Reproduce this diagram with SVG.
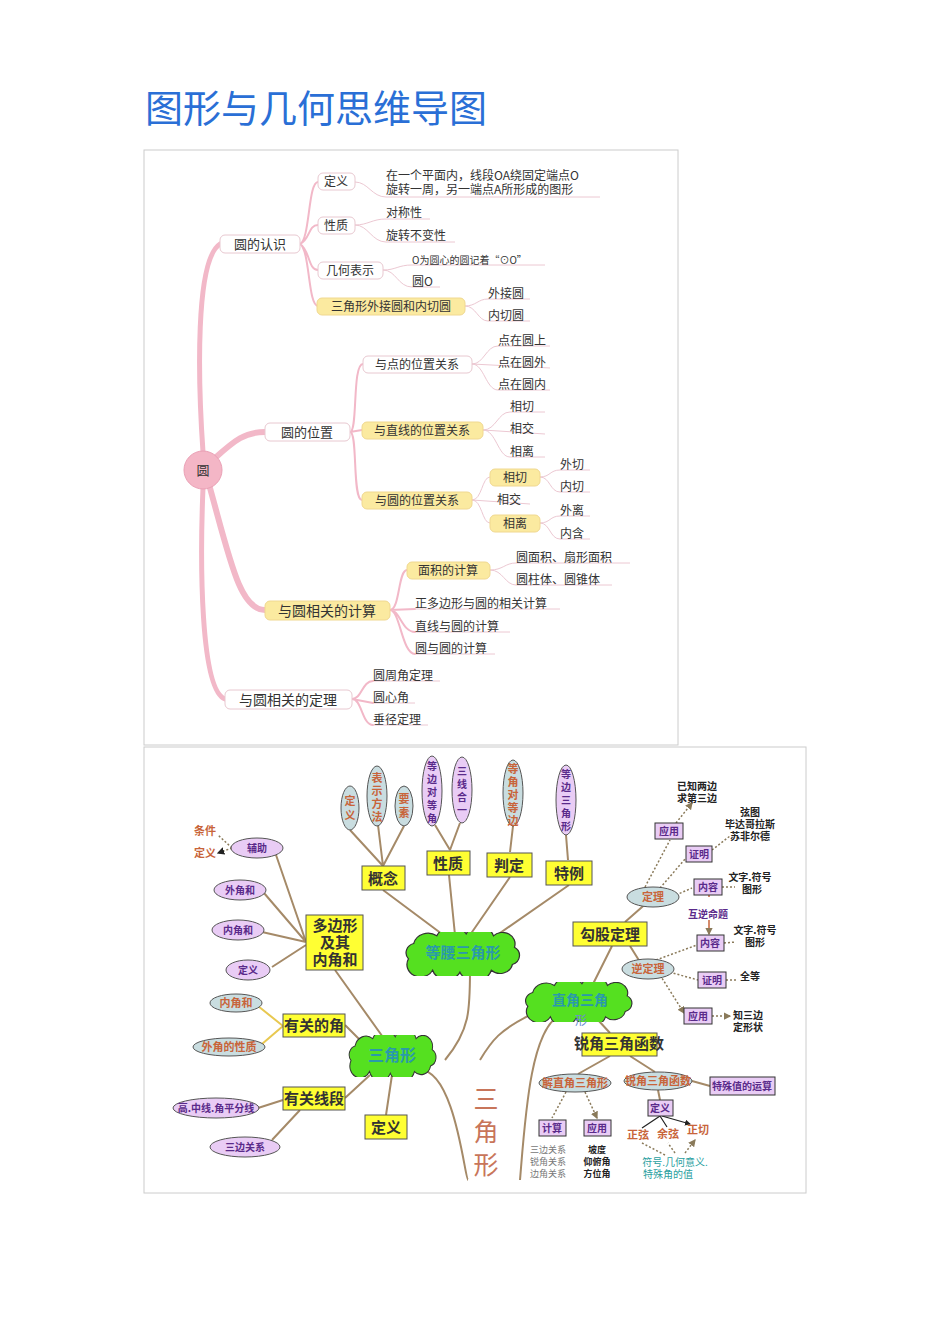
<svg xmlns="http://www.w3.org/2000/svg" xmlns:xlink="http://www.w3.org/1999/xlink" width="950" height="1344" viewBox="0 0 950 1344">
<style>
text{font-family:"Noto Sans CJK SC","Liberation Sans",sans-serif}
.t{font-size:12px;fill:#333}
.tb{font-size:13px;fill:#333}
.box{fill:#fff;stroke:#e8c8d0;stroke-width:1}
.ybox{fill:#fbeaa0;stroke:#f0d890;stroke-width:1}
.ul{stroke:#ecc8d2;stroke-width:1;fill:none}
.pk{stroke:#f2b8c8;fill:none;stroke-linecap:round}
.br{stroke:#a58a68;stroke-width:2;fill:none}
.yb{fill:#ffff33;stroke:#555;stroke-width:1}
.yt{font-size:15px;font-weight:bold;fill:#333}
.lav{fill:#e9ccf5;stroke:#555;stroke-width:1}
.gb{fill:#c9dde0;stroke:#555;stroke-width:1}
.pu{font-size:10px;font-weight:bold;fill:#5a2a8a}
.or{font-size:11px;font-weight:bold;fill:#c8643a}
.pb{fill:#e9ccf5;stroke:#333;stroke-width:1}
.dot{stroke:#8a7a5a;stroke-width:1.5;stroke-dasharray:2 2;fill:none}
.k{font-size:10px;font-weight:bold;fill:#222}
.sm{font-size:9px}
.ct{font-weight:bold;fill:#2a9aaa}
</style>
<defs>
<symbol id="cloud" viewBox="0 0 122 46" preserveAspectRatio="none">
<path d="M10,28 a10,10 0 0 1 5,-16 a14,14 0 0 1 22,-8 a16,16 0 0 1 28,-2 a14,14 0 0 1 26,2 a12,12 0 0 1 20,12 a10,10 0 0 1 -2,18 a12,12 0 0 1 -20,6 a16,16 0 0 1 -30,2 a14,14 0 0 1 -26,-2 a10,10 0 0 1 -23,-12 z" fill="#55e020" stroke="#333" stroke-width="1.2"/>
</symbol>
<marker id="ah" viewBox="0 0 6 6" refX="5" refY="3" markerWidth="5" markerHeight="5" orient="auto"><path d="M0,0L6,3L0,6z" fill="#8a7a5a"/></marker>
<marker id="ab" viewBox="0 0 6 6" refX="5" refY="3" markerWidth="5" markerHeight="5" orient="auto"><path d="M0,0L6,3L0,6z" fill="#222"/></marker>
</defs>
<rect width="950" height="1344" fill="#fff"/>
<text x="145" y="122" font-size="38" fill="#2a6fd6">图形与几何思维导图</text>
<rect x="144" y="150" width="534" height="595" fill="#fff" stroke="#ccc"/>
<rect x="144" y="747" width="662" height="446" fill="#fff" stroke="#ccc"/>

<g id="connectors-top">
<path class="pk" stroke-width="5" d="M203,452 C198,380 195,260 220,244"/>
<path class="pk" stroke-width="5" d="M203,488 C200,560 200,690 225,699"/>
<path class="pk" stroke-width="6" d="M215,458 C235,440 245,432 265,432"/>
<path class="pk" stroke-width="6" d="M210,488 C230,560 240,610 265,610"/>
<path class="pk" stroke-width="2" d="M300,244 C310,240 308,182 318,182 M300,244 C310,240 308,225 318,225 M300,244 C310,250 308,270 318,270 M300,244 C310,250 308,306 318,306"/>
<path class="ul" d="M355,182 C368,182 372,197 386,197 L600,197 M355,225 C368,225 372,219 386,219 L430,219 M355,225 C368,225 372,242 386,242 L455,242 M383,270 C396,270 398,265 412,265 L545,265 M383,270 C396,270 398,287 412,287 L440,287 M465,306 C476,306 478,299 488,299 L530,299 M465,306 C476,306 478,321 488,321 L530,321"/>
<path class="pk" stroke-width="2" d="M350,432 C358,432 352,364 363,364 M350,432 L362,430 M350,432 C358,432 352,500 362,500"/>
<path class="ul" d="M472,364 C484,364 486,346 498,346 L550,346 M472,364 L550,368 M472,364 C484,364 486,390 498,390 L550,390 M483,430 C496,430 498,412 510,412 L545,412 M483,430 L545,434 M483,430 C496,430 498,457 510,457 L545,457 M472,500 C482,500 482,477 490,477 M472,500 L530,504 M472,500 C482,500 482,523 490,523 M540,477 C550,477 550,470 560,470 L590,470 M540,477 C550,477 550,492 560,492 L590,492 M540,523 C550,523 550,516 560,516 L590,516 M540,523 C550,523 550,539 560,539 L590,539"/>
<path class="pk" stroke-width="2" d="M390,610 C400,610 398,570 407,570 M390,610 L415,609 M390,610 C400,610 402,632 415,632 M390,610 C400,610 402,654 415,654"/>
<path class="ul" d="M490,570 C503,570 505,563 516,563 L630,563 M490,570 C503,570 505,585 516,585 L612,585 M415,609 L560,609 M415,632 L510,632 M415,654 L495,654"/>
<path class="pk" stroke-width="2" d="M352,699 C362,699 362,681 373,681 M352,699 L373,703 M352,699 C362,699 362,725 373,725"/>
<path class="ul" d="M373,681 L440,681 M373,703 L415,703 M373,725 L428,725"/>
</g>

<g id="n-yuan"><circle cx="203" cy="470" r="19" fill="#f4b6c6" stroke="#eaa0b5"/><text x="203" y="475" text-anchor="middle" class="tb">圆</text></g>
<g id="n-rs"><rect class="box" x="220" y="235" width="80" height="18" rx="5"/><text x="260" y="249" text-anchor="middle" class="tb">圆的认识</text></g>
<g id="n-dy"><rect class="box" x="318" y="173" width="37" height="17" rx="5"/><text x="336" y="186" text-anchor="middle" class="t">定义</text></g>
<g id="n-dyt"><text x="386" y="180" class="t">在一个平面内，线段OA绕固定端点O</text><text x="386" y="194" class="t">旋转一周，另一端点A所形成的图形</text></g>
<g id="n-xz"><rect class="box" x="318" y="217" width="37" height="17" rx="5"/><text x="336" y="230" text-anchor="middle" class="t">性质</text></g>
<g id="n-xzt"><text x="386" y="217" class="t">对称性</text><text x="386" y="240" class="t">旋转不变性</text></g>
<g id="n-jh"><rect class="box" x="318" y="262" width="65" height="17" rx="5"/><text x="350" y="275" text-anchor="middle" class="t">几何表示</text></g>
<g id="n-jht"><text x="412" y="264" font-size="10" fill="#333">O为圆心的圆记着“⊙O”</text><text x="412" y="286" class="t">圆O</text></g>
<g id="n-sjx"><rect class="ybox" x="317" y="298" width="148" height="17" rx="5"/><text x="391" y="311" text-anchor="middle" class="t">三角形外接圆和内切圆</text></g>
<g id="n-sjxt"><text x="488" y="298" class="t">外接圆</text><text x="488" y="320" class="t">内切圆</text></g>
<g id="n-wz"><rect class="box" x="265" y="423" width="85" height="18" rx="5"/><text x="307" y="437" text-anchor="middle" class="tb">圆的位置</text></g>
<g id="n-d"><rect class="box" x="363" y="356" width="109" height="17" rx="5"/><text x="417" y="369" text-anchor="middle" class="t">与点的位置关系</text></g>
<g id="n-dt"><text x="498" y="345" class="t">点在圆上</text><text x="498" y="367" class="t">点在圆外</text><text x="498" y="389" class="t">点在圆内</text></g>
<g id="n-zx"><rect class="ybox" x="362" y="422" width="121" height="17" rx="5"/><text x="422" y="435" text-anchor="middle" class="t">与直线的位置关系</text></g>
<g id="n-zxt"><text x="510" y="411" class="t">相切</text><text x="510" y="433" class="t">相交</text><text x="510" y="456" class="t">相离</text></g>
<g id="n-y"><rect class="ybox" x="362" y="492" width="110" height="17" rx="5"/><text x="417" y="505" text-anchor="middle" class="t">与圆的位置关系</text></g>
<g id="n-xq"><rect class="ybox" x="490" y="469" width="50" height="17" rx="5"/><text x="515" y="482" text-anchor="middle" class="t">相切</text></g>
<g id="n-xj"><text x="497" y="504" class="t">相交</text></g>
<g id="n-xl"><rect class="ybox" x="490" y="515" width="50" height="17" rx="5"/><text x="515" y="528" text-anchor="middle" class="t">相离</text></g>
<g id="n-yt"><text x="560" y="469" class="t">外切</text><text x="560" y="491" class="t">内切</text><text x="560" y="515" class="t">外离</text><text x="560" y="538" class="t">内含</text></g>
<g id="n-js"><rect class="ybox" x="265" y="601" width="125" height="19" rx="5"/><text x="327" y="616" text-anchor="middle" font-size="14" fill="#333">与圆相关的计算</text></g>
<g id="n-mj"><rect class="ybox" x="407" y="562" width="83" height="17" rx="5"/><text x="448" y="575" text-anchor="middle" class="t">面积的计算</text></g>
<g id="n-mjt"><text x="516" y="562" class="t">圆面积、扇形面积</text><text x="516" y="584" class="t">圆柱体、圆锥体</text></g>
<g id="n-jst"><text x="415" y="608" class="t">正多边形与圆的相关计算</text><text x="415" y="631" class="t">直线与圆的计算</text><text x="415" y="653" class="t">圆与圆的计算</text></g>
<g id="n-dl"><rect class="box" x="225" y="690" width="127" height="19" rx="5"/><text x="288" y="705" text-anchor="middle" font-size="14" fill="#333">与圆相关的定理</text></g>
<g id="n-dlt"><text x="373" y="680" class="t">圆周角定理</text><text x="373" y="702" class="t">圆心角</text><text x="373" y="724" class="t">垂径定理</text></g>

<g id="connectors-bottom">
<path class="br" d="M383,866 L350,830 M383,866 L378,825 M383,866 L404,826 M450,850 L435,825 M450,850 L460,823 M510,852 L513,826 M568,860 L566,835"/>
<path class="br" d="M383,890 L450,940 M449,875 L455,935 M510,877 L470,935 M569,885 L490,940"/>
<path class="br" d="M335,970 L385,1040 M345,1025 L360,1040 M345,1098 L370,1075 M386,1115 L392,1075"/>
<path class="br" d="M306,942 L275,852 M306,942 L264,893 M306,942 L262,932 M306,945 L272,967"/>
<path class="br" d="M283,1100 L258,1108 M300,1110 L272,1140"/>
<path stroke="#e8c850" stroke-width="2" fill="none" d="M283,1026 L258,1006 M283,1026 L262,1044"/>
<path class="br" d="M470,970 C470,1010 470,1030 445,1060"/>
<path class="br" d="M420,1070 C455,1070 465,1180 468,1180"/>
<path class="br" d="M560,1015 C530,1030 525,1120 520,1180"/>
<path class="br" d="M530,1015 C500,1030 492,1040 480,1060"/>
<path class="br" d="M590,990 L612,946 M625,922 L650,900 M630,946 L640,962 M598,1020 L610,1033 M610,1056 L578,1074 M630,1056 L655,1072 M692,1081 L710,1086 M658,1090 L660,1100"/>
<path class="dot" marker-end="url(#ah)" d="M645,887 L670,840 M676,823 L692,803"/>
<path class="dot" marker-end="url(#ah)" d="M660,888 L686,858 M712,850 L730,836 M676,895 L692,888 M722,887 L735,887 M724,943 L736,942 M726,980 L737,980 M712,1016 L730,1016"/>
<path class="dot" marker-end="url(#ah)" d="M656,960 L697,945 M662,970 L698,980 M660,975 L684,1013"/>
<path class="dot" marker-end="url(#ah)" d="M566,1092 L552,1118 M585,1092 L597,1118"/>
<path stroke="#c8643a" stroke-width="1.5" fill="none" marker-end="url(#ah)" d="M709,897 L709,880 M709,920 L709,934"/>
<path stroke="#222" stroke-width="1.2" fill="none" marker-end="url(#ab)" d="M660,1116 L642,1128 M660,1116 L667,1127 M662,1116 L690,1124"/>
<path class="dot" marker-end="url(#ah)" d="M665,1155 L642,1143 M675,1153 L668,1143 M685,1153 L695,1140"/>
<path class="dot" marker-end="url(#ab)" d="M232,848 L218,835 M232,848 L218,853"/>
</g>

<g id="b-c1"><use href="#cloud" x="398" y="932" width="128" height="44"/><text x="463" y="958" text-anchor="middle" font-size="15" class="ct">等腰三角形</text></g>
<g id="b-c2"><use href="#cloud" x="343" y="1035" width="98" height="42"/><text x="392" y="1061" text-anchor="middle" font-size="16" class="ct">三角形</text></g>
<g id="b-c3"><use href="#cloud" x="518" y="982" width="120" height="40"/><text x="580" y="1005" text-anchor="middle" font-size="14" class="ct">直角三角</text><text x="581" y="1025" text-anchor="middle" font-size="12" fill="#6a8ad6">形</text></g>

<g id="b-e1"><ellipse class="gb" cx="350" cy="808" rx="9" ry="22"/><text x="350" y="805" text-anchor="middle" class="or">定</text><text x="350" y="819" text-anchor="middle" class="or">义</text></g>
<g id="b-e2"><ellipse class="gb" cx="377" cy="796" rx="10" ry="30"/><text x="377" y="782" text-anchor="middle" class="or">表</text><text x="377" y="795" text-anchor="middle" class="or">示</text><text x="377" y="808" text-anchor="middle" class="or">方</text><text x="377" y="821" text-anchor="middle" class="or">法</text></g>
<g id="b-e3"><ellipse class="gb" cx="404" cy="806" rx="9" ry="20"/><text x="404" y="803" text-anchor="middle" class="or">要</text><text x="404" y="817" text-anchor="middle" class="or">素</text></g>
<g id="b-e4"><ellipse class="lav" cx="432" cy="791" rx="10" ry="35"/><g class="pu" text-anchor="middle"><text x="432" y="770">等</text><text x="432" y="783">边</text><text x="432" y="796">对</text><text x="432" y="809">等</text><text x="432" y="822">角</text></g></g>
<g id="b-e5"><ellipse class="lav" cx="462" cy="790" rx="10" ry="33"/><g class="pu" text-anchor="middle"><text x="462" y="775">三</text><text x="462" y="788">线</text><text x="462" y="801">合</text><text x="462" y="814">一</text></g></g>
<g id="b-e6"><ellipse class="gb" cx="513" cy="793" rx="10" ry="33"/><g class="or" text-anchor="middle" font-size="10"><text x="513" y="773">等</text><text x="513" y="786">角</text><text x="513" y="799">对</text><text x="513" y="812">等</text><text x="513" y="825">边</text></g></g>
<g id="b-e7"><ellipse class="lav" cx="566" cy="800" rx="10" ry="35"/><g class="pu" text-anchor="middle"><text x="566" y="778">等</text><text x="566" y="791">边</text><text x="566" y="804">三</text><text x="566" y="817">角</text><text x="566" y="830">形</text></g></g>

<g id="b-gn"><rect class="yb" x="362" y="866" width="43" height="24"/><text x="383" y="884" text-anchor="middle" class="yt">概念</text></g>
<g id="b-xz"><rect class="yb" x="427" y="851" width="43" height="24"/><text x="448" y="869" text-anchor="middle" class="yt">性质</text></g>
<g id="b-pd"><rect class="yb" x="487" y="853" width="45" height="24"/><text x="509" y="871" text-anchor="middle" class="yt">判定</text></g>
<g id="b-tl"><rect class="yb" x="546" y="861" width="46" height="24"/><text x="569" y="879" text-anchor="middle" class="yt">特例</text></g>
<g id="b-dbx"><rect class="yb" x="306" y="915" width="57" height="55"/><text x="335" y="931" text-anchor="middle" class="yt" font-size="14">多边形</text><text x="335" y="948" text-anchor="middle" class="yt" font-size="14">及其</text><text x="335" y="965" text-anchor="middle" class="yt" font-size="14">内角和</text></g>
<g id="b-fz"><ellipse class="lav" cx="257" cy="848" rx="26" ry="10"/><text x="257" y="852" text-anchor="middle" class="pu">辅助</text></g>
<g id="b-tj"><text x="205" y="835" text-anchor="middle" class="or">条件</text><text x="205" y="857" text-anchor="middle" class="or">定义</text></g>
<g id="b-wjh"><ellipse class="lav" cx="240" cy="890" rx="26" ry="10"/><text x="240" y="894" text-anchor="middle" class="pu">外角和</text></g>
<g id="b-njh"><ellipse class="lav" cx="238" cy="930" rx="26" ry="10"/><text x="238" y="934" text-anchor="middle" class="pu">内角和</text></g>
<g id="b-dy1"><ellipse class="lav" cx="248" cy="970" rx="22" ry="10"/><text x="248" y="974" text-anchor="middle" class="pu">定义</text></g>
<g id="b-yj"><rect class="yb" x="283" y="1014" width="62" height="23"/><text x="314" y="1031" text-anchor="middle" class="yt">有关的角</text></g>
<g id="b-njh2"><ellipse class="gb" cx="236" cy="1003" rx="26" ry="9"/><text x="236" y="1007" text-anchor="middle" class="or" font-size="10">内角和</text></g>
<g id="b-wjxz"><ellipse class="gb" cx="229" cy="1047" rx="36" ry="9"/><text x="229" y="1051" text-anchor="middle" class="or" font-size="10">外角的性质</text></g>
<g id="b-yxd"><rect class="yb" x="283" y="1087" width="62" height="23"/><text x="314" y="1104" text-anchor="middle" class="yt">有关线段</text></g>
<g id="b-gzx"><ellipse class="lav" cx="216" cy="1108" rx="43" ry="10"/><text x="216" y="1112" text-anchor="middle" class="pu">高.中线.角平分线</text></g>
<g id="b-sbgx"><ellipse class="lav" cx="245" cy="1147" rx="35" ry="10"/><text x="245" y="1151" text-anchor="middle" class="pu">三边关系</text></g>
<g id="b-dy2"><rect class="yb" x="365" y="1115" width="42" height="24"/><text x="386" y="1133" text-anchor="middle" class="yt">定义</text></g>
<g id="b-sjx" font-size="25" fill="#c8755a" text-anchor="middle"><text x="486" y="1108">三</text><text x="486" y="1141">角</text><text x="486" y="1174">形</text></g>

<g id="b-gg"><rect class="yb" x="573" y="922" width="74" height="24"/><text x="610" y="940" text-anchor="middle" class="yt">勾股定理</text></g>
<g id="b-dl"><ellipse class="gb" cx="653" cy="897" rx="26" ry="10"/><text x="653" y="901" text-anchor="middle" class="or" font-size="10">定理</text></g>
<g id="b-ndl"><ellipse class="gb" cx="648" cy="969" rx="26" ry="10"/><text x="648" y="973" text-anchor="middle" class="or" font-size="10">逆定理</text></g>
<g id="b-yy1"><rect class="pb" x="655" y="823" width="28" height="16"/><text x="669" y="835" text-anchor="middle" class="pu">应用</text></g>
<g id="b-yz"><text x="697" y="790" text-anchor="middle" class="k">已知两边</text><text x="697" y="802" text-anchor="middle" class="k">求第三边</text></g>
<g id="b-zm1"><rect class="pb" x="686" y="846" width="26" height="16"/><text x="699" y="858" text-anchor="middle" class="pu">证明</text></g>
<g id="b-xt"><text x="750" y="816" text-anchor="middle" class="k">弦图</text><text x="750" y="828" text-anchor="middle" class="k">毕达哥拉斯</text><text x="750" y="840" text-anchor="middle" class="k">苏非尔德</text></g>
<g id="b-nr1"><rect class="pb" x="694" y="879" width="28" height="16"/><text x="708" y="891" text-anchor="middle" class="pu">内容</text></g>
<g id="b-wz1"><text x="750" y="881" text-anchor="middle" class="k">文字.符号</text><text x="752" y="893" text-anchor="middle" class="k">图形</text></g>
<g id="b-hn"><text x="708" y="918" text-anchor="middle" class="pu">互逆命题</text></g>
<g id="b-nr2"><rect class="pb" x="697" y="935" width="27" height="16"/><text x="710" y="947" text-anchor="middle" class="pu">内容</text></g>
<g id="b-wz2"><text x="755" y="934" text-anchor="middle" class="k">文字.符号</text><text x="755" y="946" text-anchor="middle" class="k">图形</text></g>
<g id="b-zm2"><rect class="pb" x="698" y="972" width="28" height="16"/><text x="712" y="984" text-anchor="middle" class="pu">证明</text></g>
<g id="b-qd"><text x="750" y="980" text-anchor="middle" class="k">全等</text></g>
<g id="b-yy2"><rect class="pb" x="684" y="1008" width="28" height="16"/><text x="698" y="1020" text-anchor="middle" class="pu">应用</text></g>
<g id="b-zsb"><text x="748" y="1019" text-anchor="middle" class="k">知三边</text><text x="748" y="1031" text-anchor="middle" class="k">定形状</text></g>
<g id="b-rj"><rect class="yb" x="582" y="1033" width="75" height="23"/><text x="619" y="1049" text-anchor="middle" class="yt" font-size="12">锐角三角函数</text></g>
<g id="b-jzj"><ellipse class="gb" cx="575" cy="1083" rx="36" ry="9"/><text x="575" y="1087" text-anchor="middle" class="or" font-size="10">解直角三角形</text></g>
<g id="b-rjs"><ellipse class="gb" cx="658" cy="1081" rx="34" ry="9"/><text x="658" y="1085" text-anchor="middle" class="or" font-size="10">锐角三角函数</text></g>
<g id="b-ts"><rect class="pb" x="710" y="1077" width="65" height="18"/><text x="742" y="1090" text-anchor="middle" class="pu">特殊值的运算</text></g>
<g id="b-dy3"><rect class="pb" x="648" y="1100" width="25" height="16"/><text x="660" y="1112" text-anchor="middle" class="pu">定义</text></g>
<g id="b-zx"><text x="638" y="1139" text-anchor="middle" class="or">正弦</text><text x="668" y="1138" text-anchor="middle" class="or">余弦</text><text x="698" y="1134" text-anchor="middle" class="or">正切</text></g>
<g id="b-fh"><text x="675" y="1166" text-anchor="middle" font-size="10" fill="#2aa0a0">符号.几何意义.</text><text x="668" y="1178" text-anchor="middle" font-size="10" fill="#2aa0a0">特殊角的值</text></g>
<g id="b-jsb"><rect class="pb" x="539" y="1120" width="27" height="16"/><text x="552" y="1132" text-anchor="middle" class="pu">计算</text></g>
<g id="b-yy3"><rect class="pb" x="584" y="1120" width="27" height="16"/><text x="597" y="1132" text-anchor="middle" class="pu">应用</text></g>
<g id="b-sb" font-size="9" fill="#777" text-anchor="middle"><text x="548" y="1153">三边关系</text><text x="548" y="1165">锐角关系</text><text x="548" y="1177">边角关系</text></g>
<g id="b-pdt" font-size="9" font-weight="bold" fill="#222" text-anchor="middle"><text x="597" y="1153">坡度</text><text x="597" y="1165">仰俯角</text><text x="597" y="1177">方位角</text></g>
</svg>
